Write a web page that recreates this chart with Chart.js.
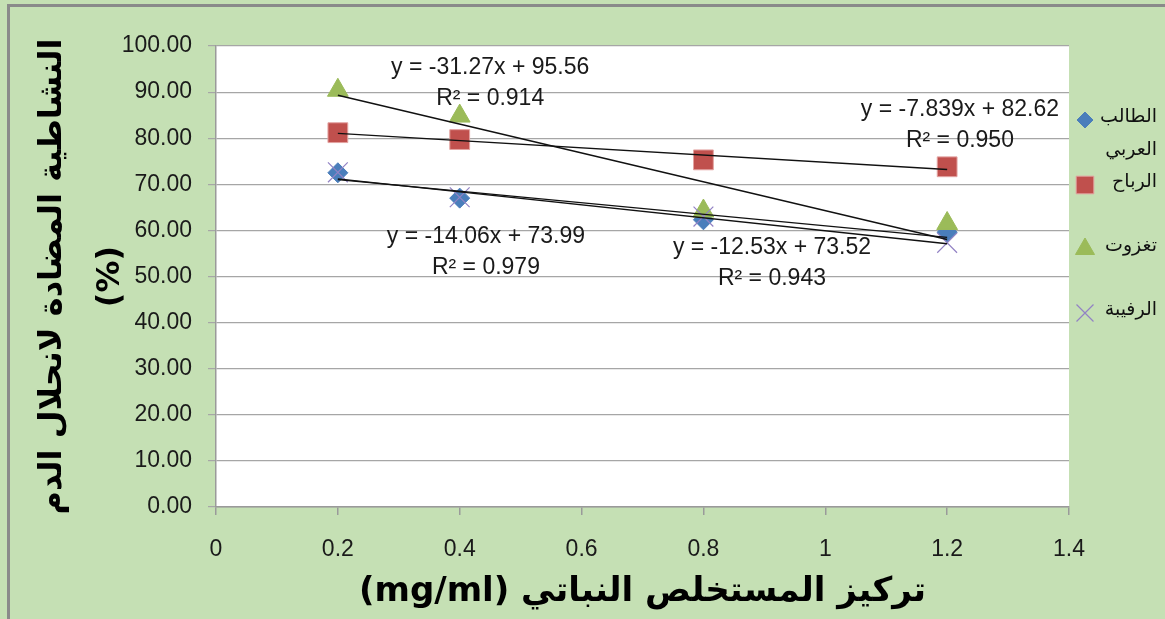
<!DOCTYPE html>
<html lang="ar">
<head>
<meta charset="utf-8">
<script src="https://cdn.jsdelivr.net/npm/chart.js@4/dist/chart.umd.min.js"></script>
<style>
  html, body { margin: 0; padding: 0; background: #c5e0b4; }
  #wrap { width: 1165px; height: 619px; }
</style>
</head>
<body>
<div id="wrap"><canvas id="chart" width="1165" height="619"></canvas></div>
<script>
// values
const concentrations = [0.2, 0.4, 0.8, 1.2];
const seriesNames = ['الطالب العربي', 'الرباح', 'تغزوت', 'الرفيبة'];
const talebValues = [72.5, 67.0, 62.3, 59.6];
const rebahValues = [81.2, 79.7, 75.3, 73.8];
const taghzoutValues = [90.4, 84.8, 64.2, 61.5];
const rafibaValues = [72.6, 67.2, 63.0, 57.3];
// trendline coefficients as printed on the chart
const slopes = [-14.06, -7.839, -31.27, -12.53];
const intercepts = [73.99, 82.62, 95.56, 73.52];
const equationLabels = ['y = -14.06x + 73.99', 'y = -7.839x + 82.62', 'y = -31.27x + 95.56', 'y = -12.53x + 73.52'];
const r2Labels = ['R² = 0.979', 'R² = 0.950', 'R² = 0.914', 'R² = 0.943'];
const xTitle = 'تركيز المستخلص النباتي (mg/ml)';
const yTitle = ['النشاطية المضادة لانحلال الدم', '(%)'];

const allValues = [talebValues, rebahValues, taghzoutValues, rafibaValues];

const markerStyles = [
  { pointStyle: 'rectRot', radius: 10, legendRadius: 8, backgroundColor: '#4a7ebb', borderColor: '#4a7ebb', borderWidth: 1 },
  { pointStyle: 'rect', radius: 14, legendRadius: 12.5, backgroundColor: '#c0504d', borderColor: '#e3a3a1', borderWidth: 1 },
  { pointStyle: 'triangle', radius: 12, legendRadius: 11, backgroundColor: '#9bbb59', borderColor: '#9bbb59', borderWidth: 1 },
  { pointStyle: 'crossRot', radius: 14, legendRadius: 12, backgroundColor: '#8064a2', borderColor: '#9282c4', borderWidth: 1.2 },
];
// where the equation boxes sit, in data units (centre of first line)
const labelAnchors = [[0.443, 58.6], [1.221, 86.1], [0.45, 95.2], [0.9125, 56.2]];

const ARABIC_FONT = "'DejaVu Sans', sans-serif";
const LATIN_FONT = "'Liberation Sans', Arial, sans-serif";

const pointDatasets = allValues.map((vals, i) => ({
  type: 'scatter',
  label: seriesNames[i],
  data: concentrations.map((c, j) => ({ x: c, y: vals[j] })),
  pointStyle: markerStyles[i].pointStyle,
  pointRadius: markerStyles[i].radius,
  pointBackgroundColor: markerStyles[i].backgroundColor,
  pointBorderColor: markerStyles[i].borderColor,
  pointBorderWidth: markerStyles[i].borderWidth,
  showLine: false,
  order: 4 - i, // later series drawn over earlier ones
}));

const xFirst = concentrations[0];
const xLast = concentrations[concentrations.length - 1];
const trendDatasets = slopes.map((m, i) => ({
  type: 'line',
  label: 'trend ' + i,
  data: [{ x: xFirst, y: m * xFirst + intercepts[i] }, { x: xLast, y: m * xLast + intercepts[i] }],
  borderColor: '#111111',
  borderWidth: 1.4,
  pointRadius: 0,
  fill: false,
  order: 0,
}));

const chartBackground = {
  id: 'chartBackground',
  beforeDraw(chart) {
    const { ctx, chartArea: a } = chart;
    ctx.save();
    ctx.fillStyle = '#c5e0b4';
    ctx.fillRect(0, 0, chart.width, chart.height);
    ctx.strokeStyle = '#8a8a8a';
    ctx.lineWidth = 3;
    ctx.strokeRect(8.5, 5.5, chart.width + 20, chart.height + 20);
    ctx.fillStyle = '#ffffff';
    ctx.fillRect(a.left, a.top, a.right - a.left, a.bottom - a.top);
    ctx.restore();
  },
};

const equationText = {
  id: 'equationText',
  afterDatasetsDraw(chart) {
    const { ctx, scales } = chart;
    ctx.save();
    ctx.font = '23px ' + LATIN_FONT;
    ctx.fillStyle = '#1a1a1a';
    ctx.textAlign = 'center';
    ctx.textBaseline = 'middle';
    labelAnchors.forEach(([ax, ay], i) => {
      const px = scales.x.getPixelForValue(ax);
      const py = scales.y.getPixelForValue(ay);
      ctx.fillText(equationLabels[i], px, py);
      ctx.fillText(r2Labels[i], px, py + 31);
    });
    ctx.restore();
  },
};

const sideLegend = {
  id: 'sideLegend',
  afterDraw(chart) {
    const { ctx } = chart;
    const rows = [120, 185, 249, 313];
    const markerX = 1085;
    const textRight = 1157;
    const maxW = 62;
    ctx.save();
    ctx.font = '19px ' + ARABIC_FONT;
    ctx.textAlign = 'right';
    ctx.textBaseline = 'middle';
    seriesNames.forEach((name, i) => {
      const st = markerStyles[i];
      ctx.fillStyle = st.backgroundColor;
      ctx.strokeStyle = st.borderColor;
      ctx.lineWidth = st.borderWidth;
      Chart.helpers.drawPoint(ctx, {
        pointStyle: st.pointStyle,
        radius: st.legendRadius,
        rotation: 0,
        borderWidth: st.borderWidth,
      }, markerX, rows[i]);
      // wrap words like the spreadsheet legend does
      const words = name.split(' ');
      const lines = [];
      let cur = '';
      words.forEach(w => {
        const test = cur ? cur + ' ' + w : w;
        if (cur && ctx.measureText(test).width > maxW) {
          lines.push(cur);
          cur = w;
        } else {
          cur = test;
        }
      });
      lines.push(cur);
      ctx.fillStyle = '#111111';
      lines.forEach((ln, k) => ctx.fillText(ln, textRight, rows[i] - 3 + k * 33));
    });
    ctx.restore();
  },
};

const config = {
  type: 'scatter',
  data: { datasets: [...pointDatasets, ...trendDatasets] },
  options: {
    responsive: false,
    animation: false,
    layout: { padding: { left: 0, top: 46, right: 96, bottom: 0 } },
    plugins: {
      legend: { display: false },
      tooltip: { enabled: false },
    },
    scales: {
      x: {
        type: 'linear',
        min: 0,
        max: 1.4,
        afterFit: (scale) => { scale.height = 112; },
        ticks: {
          stepSize: 0.2,
          padding: 21,
          color: '#1a1a1a',
          font: { size: 23, family: LATIN_FONT },
          callback: (v) => String(Number(v.toFixed(1))),
        },
        grid: { drawOnChartArea: false, color: '#9a9a9a', tickLength: 8, lineWidth: 1.5 },
        border: { color: '#9a9a9a', width: 1.5 },
        title: {
          display: true,
          text: '\u202B' + xTitle + '\u202C',
          color: '#000000',
          font: { size: 34, weight: 'bold', family: ARABIC_FONT, lineHeight: 1.2 },
          padding: { top: 0, bottom: 6 },
        },
      },
      y: {
        min: 0,
        max: 100,
        afterFit: (scale) => { scale.width = 216; },
        ticks: {
          stepSize: 10,
          padding: 16,
          color: '#1a1a1a',
          font: { size: 23, family: LATIN_FONT },
          callback: (v) => v.toFixed(2),
        },
        grid: { color: '#a6a6a6', tickLength: 8, lineWidth: 1.2 },
        border: { color: '#9a9a9a', width: 1.5 },
        title: {
          display: true,
          text: yTitle,
          color: '#000000',
          font: { size: 32, weight: 'bold', family: ARABIC_FONT, lineHeight: 1.8 },
          padding: { top: 24, bottom: 0 },
        },
      },
    },
  },
  plugins: [chartBackground, equationText, sideLegend],
};

new Chart(document.getElementById('chart'), config);
</script>
</body>
</html>
